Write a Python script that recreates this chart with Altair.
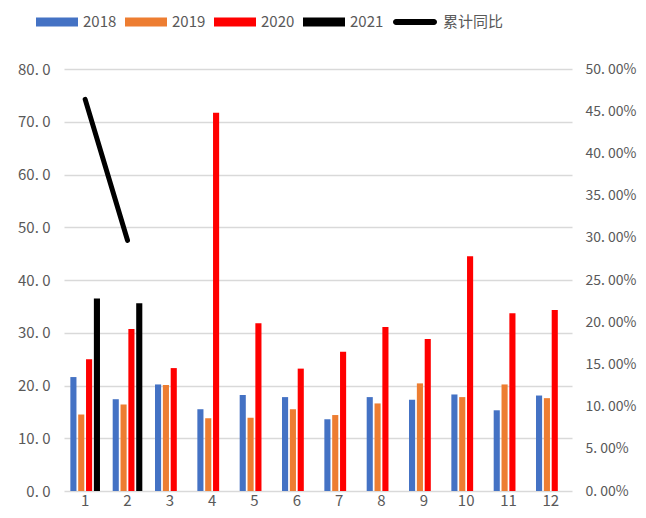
import altair as alt
import pandas as pd

months = [str(i) for i in range(1, 13)]
years = ["2018", "2019", "2020", "2021"]
year_colors = ["#4472C4", "#ED7D31", "#FF0000", "#000000"]

v2018 = [21.6, 17.4, 20.2, 15.5, 18.2, 17.8, 13.6, 17.8, 17.3, 18.3, 15.3, 18.1]
v2019 = [14.5, 16.4, 20.1, 13.8, 13.9, 15.5, 14.4, 16.6, 20.4, 17.8, 20.2, 17.6]
v2020 = [25.0, 30.7, 23.3, 71.7, 31.8, 23.2, 26.4, 31.1, 28.8, 44.5, 33.7, 34.3]
v2021 = [36.5, 35.6]

cum_label = "累计同比"
cum_months = ["1", "2"]
cum_yoy = [0.464, 0.297]

rows = []
for yr, vals in zip(years, [v2018, v2019, v2020, v2021]):
    for m, v in zip(months, vals):
        rows.append({"month": m, "year": yr, "value": v})
df = pd.DataFrame(rows)
df_line = pd.DataFrame({"month": cum_months, "yoy": cum_yoy, "series": [cum_label] * len(cum_months)})

FONT = "Noto Sans CJK SC"
GRAY = "#595959"

bar_symbol = "M-1,-0.214H1V0.214H-1Z"
line_symbol = "M-0.864,-0.136H0.864A0.136,0.136 0 0 1 0.864,0.136H-0.864A0.136,0.136 0 0 1 -0.864,-0.136Z"

bars = alt.Chart(df).mark_bar().encode(
    x=alt.X("month:N", sort=months, title=None,
            scale=alt.Scale(paddingInner=0.3, paddingOuter=0.15),
            axis=alt.Axis(labelAngle=0, domain=False, ticks=False, labelPadding=2,
                          labelFontSize=15, labelColor=GRAY, labelFont=FONT)),
    xOffset=alt.XOffset("year:N", scale=alt.Scale(domain=years, paddingInner=0.22, paddingOuter=0)),
    y=alt.Y("value:Q", title=None,
            scale=alt.Scale(domain=[0, 80], nice=False),
            axis=alt.Axis(values=list(range(0, 81, 10)), domain=False, ticks=False,
                          labelExpr="replace(format(datum.value, '.1f'), '.', '. ')",
                          labelPadding=14, labelFontSize=15, labelColor=GRAY, labelFont=FONT,
                          grid=True, gridColor="#D9D9D9", gridWidth=1.3)),
    color=alt.Color("year:N", scale=alt.Scale(domain=years, range=year_colors),
                    legend=alt.Legend(title=None, orient="none", legendX=-28, legendY=-68,
                                      direction="horizontal", columns=4, padding=0,
                                      symbolType=bar_symbol, symbolSize=1764, symbolStrokeWidth=0,
                                      symbolOpacity=1,
                                      labelFontSize=15, labelColor=GRAY, labelFont=FONT,
                                      labelOffset=5, columnPadding=8)),
)

line = alt.Chart(df_line).mark_line(strokeWidth=5, strokeCap="round").encode(
    x=alt.X("month:N", sort=months),
    y=alt.Y("yoy:Q", title=None,
            scale=alt.Scale(domain=[0, 0.5], nice=False),
            axis=alt.Axis(orient="right", values=[i * 0.05 for i in range(11)], domain=False, ticks=False,
                          grid=False,
                          labelExpr="replace(format(datum.value, '.2%'), '.', '. ')",
                          labelPadding=13, labelFontSize=14, labelColor=GRAY, labelFont=FONT)),
    color=alt.Color("series:N", scale=alt.Scale(domain=[cum_label], range=["#000000"]),
                    legend=alt.Legend(title=None, orient="none", legendX=329, legendY=-69, padding=0,
                                      symbolType=line_symbol, symbolSize=1936, symbolStrokeWidth=0,
                                      symbolFillColor="#000000", symbolStrokeColor="#000000",
                                      labelFontSize=15, labelColor=GRAY, labelFont=FONT,
                                      labelOffset=6)),
)

chart = alt.layer(bars, line).resolve_scale(y="independent", color="independent").properties(
    width=508, height=422,
    autosize=alt.AutoSizeParams(type="none"),
    padding={"left": 56, "top": 61, "right": 66, "bottom": 19},
).configure_view(stroke=None)

chart.save("out.html", embed_options={"renderer": "svg", "actions": False})
